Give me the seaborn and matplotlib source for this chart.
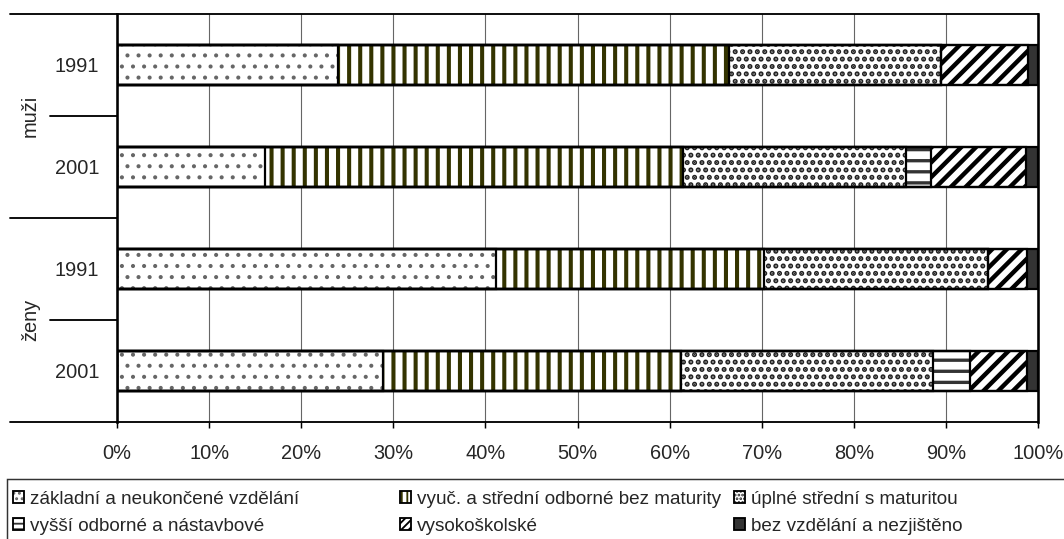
import numpy as np
import pandas as pd
import matplotlib
matplotlib.use("Agg")
import matplotlib.pyplot as plt
import seaborn as sns
from matplotlib.patches import Patch, Rectangle
from matplotlib.legend_handler import HandlerTuple
import matplotlib.transforms as mtransforms

# data (percent of population by education level)
groups = ["muži", "ženy"]
years = ["1991", "2001", "1991", "2001"]
row_ids = ["muži 1991", "muži 2001", "ženy 1991", "ženy 2001"]
levels = ["základní a neukončené vzdělání", "vyuč. a střední odborné bez maturity",
          "úplné střední s maturitou", "vyšší odborné a nástavbové",
          "vysokoškolské", "bez vzdělání a nezjištěno"]
zakladni = [24.0, 16.1, 41.2, 28.9]
vyuc = [42.5, 45.4, 29.0, 32.3]
uplne = [23.0, 24.2, 24.4, 27.4]
vyssi = [0.0, 2.7, 0.0, 4.0]
vysoko = [9.4, 10.3, 4.2, 6.2]
bez = [1.1, 1.3, 1.2, 1.2]

# fill style for each level: face, hatch, hatch colour, hatch width
styles = [("white", "..", "#666666", 1.0),
          ("white", "||", "#333300", 2.2),
          ("white", "...", "#222222", 1.9),
          ("white", "--", "#333333", 1.8),
          ("white", "///", "black", 2.4),
          ("#333333", "", "#333333", 1.0)]

FS = 10.8
sns.set_style("white")
plt.rcParams['font.family'] = ['Liberation Sans', 'DejaVu Sans']
plt.rcParams['font.size'] = FS

values = np.array([zakladni, vyuc, uplne, vyssi, vysoko, bez])
cum = values.cumsum(axis=0)

fig = plt.figure(figsize=(1064 / 133, 539 / 133), dpi=133)
ax = fig.add_axes([117 / 1064, 1 - 422 / 539, (1038 - 117) / 1064, (422 - 14) / 539])

# stacked bars: draw cumulative totals from the largest down
for i in range(len(levels) - 1, -1, -1):
    d = pd.DataFrame({"row": row_ids, "value": cum[i]})
    n0 = len(ax.patches)
    sns.barplot(data=d, x="value", y="row", orient="h", width=0.4, ax=ax,
                color="white", zorder=2)
    fc, h, hc, hlw = styles[i]
    for p in ax.patches[n0:]:
        p.set_facecolor(fc)
        p.set_edgecolor(hc)
        p.set_hatch(h)
        p.set_linewidth(0)
        if hasattr(p, "set_hatch_linewidth"):
            p.set_hatch_linewidth(hlw)

for p in list(ax.patches):
    ax.add_patch(Rectangle(p.get_xy(), p.get_width(), p.get_height(), fill=False,
                           edgecolor="black", linewidth=1.2, zorder=3))

ax.set_xlim(0, 100)
ax.set_ylim(3.5, -0.5)
ax.set_xticks(np.arange(0, 101, 10))
ax.set_xticklabels([f"{t}%" for t in range(0, 101, 10)])
ax.set_yticks(range(4))
ax.set_yticklabels(years)
ax.set_xlabel("")
ax.set_ylabel("")
ax.tick_params(axis="y", length=0, pad=9.5, labelsize=FS)
ax.tick_params(axis="x", length=3.2, width=0.8, direction="out", pad=8.5, labelsize=FS,
               color="black", bottom=True)
ax.set_axisbelow(True)
ax.xaxis.grid(True, color="#666666", linewidth=0.6)
ax.yaxis.grid(False)
for s in ["left", "right"]:
    ax.spines[s].set_linewidth(1.4)
for s in ["top", "bottom"]:
    ax.spines[s].set_linewidth(1.0)
for s in ax.spines.values():
    s.set_color("black")
    s.set_visible(True)

# category separators left of the axis
trans = mtransforms.blended_transform_factory(ax.transAxes, ax.transData)
for yv in [-0.5, 1.5, 3.5]:
    ax.plot([-0.116, 0], [yv, yv], color="black", lw=1.0, transform=trans, clip_on=False)
for yv in [0.5, 2.5]:
    ax.plot([-0.073, 0], [yv, yv], color="black", lw=1.0, transform=trans, clip_on=False)
for gi, g in enumerate(groups):
    ax.text(-0.094, 2 * gi + 0.5, g, rotation=90, ha="center", va="center",
            transform=trans, fontsize=FS)

# legend box
fig.patches.append(Rectangle((7 / 1064, -0.2), 1.2, 1.2 - 479 / 539, fill=False,
                             edgecolor="#333333", linewidth=0.8,
                             transform=fig.transFigure, figure=fig))

def handle(i):
    fc, h, hc, hlw = styles[i]
    inner = Patch(facecolor=fc, edgecolor=hc, hatch=h * 2, linewidth=0)
    if hasattr(inner, "set_hatch_linewidth"):
        inner.set_hatch_linewidth(min(hlw, 2.0))
    outer = Patch(facecolor="none", edgecolor="black", linewidth=1.0)
    return (inner, outer)

LFS = 10.2
col_x = [13, 400, 734]
for c in range(3):
    idx = [c, c + 3]
    fig.legend([handle(i) for i in idx], [levels[i] for i in idx],
               handler_map={tuple: HandlerTuple(ndivide=1, pad=0)},
               loc="upper left", bbox_to_anchor=(col_x[c] / 1064, 1 - 491 / 539),
               frameon=False, borderpad=0, borderaxespad=0, handlelength=0.6,
               handleheight=0.6, handletextpad=0.3, labelspacing=0.52, fontsize=LFS)

fig.savefig("out.png", dpi=133)
